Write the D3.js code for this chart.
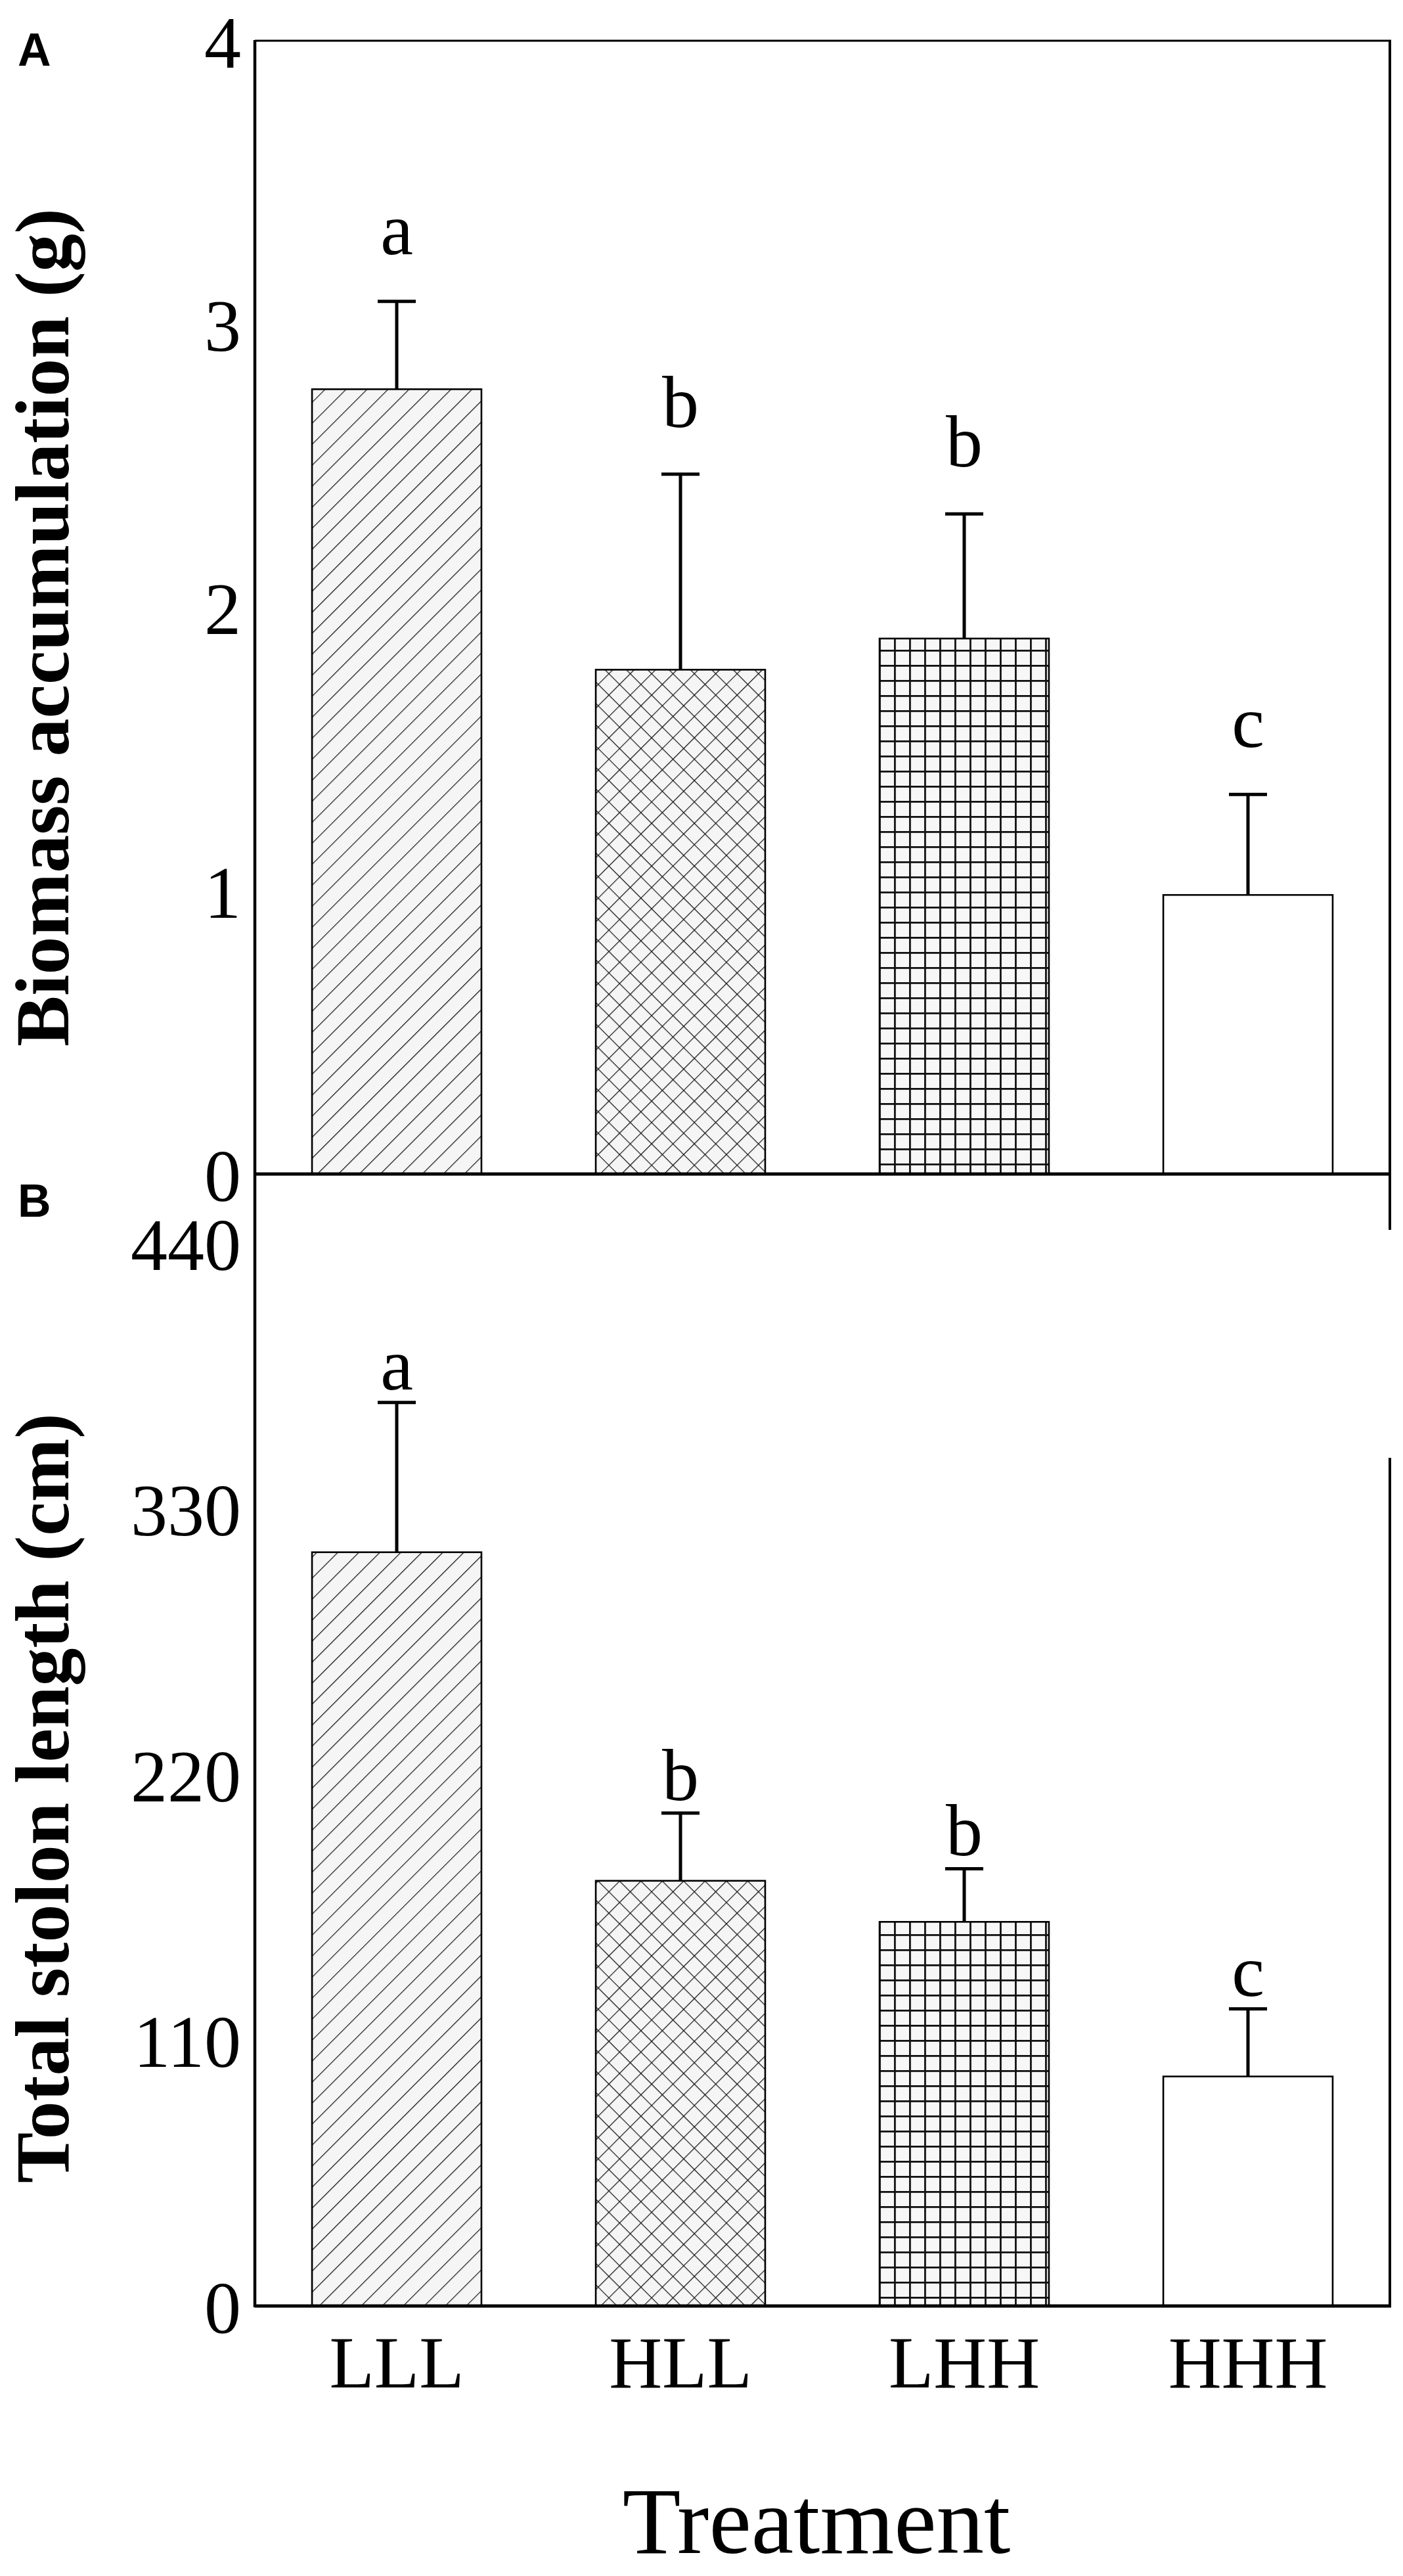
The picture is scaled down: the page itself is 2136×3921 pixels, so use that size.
<!DOCTYPE html>
<html>
<head>
<meta charset="utf-8">
<script src="https://cdn.jsdelivr.net/npm/d3@7/dist/d3.min.js"></script>
<style>
  html, body { margin: 0; padding: 0; background: #ffffff; }
  svg { display: block; }
</style>
</head>
<body>
<script>
// ---------------- data ----------------
const categories = ["LLL", "HLL", "LHH", "HHH"];
const biomassMean = [2.77, 1.78, 1.89, 0.985];
const biomassSE = [0.31, 0.69, 0.44, 0.355];
const biomassLetters = ["a", "b", "b", "c"];
const biomassTicks = [0, 1, 2, 3, 4];
const stolonMean = [312, 176, 159, 95];
const stolonSE = [62, 28, 22, 28];
const stolonLetters = ["a", "b", "b", "c"];
const stolonTicks = [0, 110, 220, 330, 440];
const patternIds = ["diag", "cross", "grid", "none"];

// ---------------- layout ----------------
const W = 2136, H = 3921;
const left = 388, right = 2116;
const serif = "'Liberation Serif','Times New Roman',Times,serif";
const sans = "'Liberation Sans',Arial,Helvetica,sans-serif";

const svg = d3.select("body").append("svg")
  .attr("width", W).attr("height", H)
  .attr("viewBox", `0 0 ${W} ${H}`);
svg.append("rect").attr("width", W).attr("height", H).attr("fill", "#fff");

const x = d3.scaleBand().domain(categories).range([left, right])
  .paddingInner(0.403).paddingOuter(0.2015);

// patterns
const defs = svg.append("defs");
const pd = defs.append("pattern").attr("id", "diag")
  .attr("patternUnits", "userSpaceOnUse").attr("width", 22.6).attr("height", 22.6)
  .attr("patternTransform", "rotate(45)");
pd.append("rect").attr("width", 22.6).attr("height", 22.6).attr("fill", "#f5f5f5");
pd.append("line").attr("x1", 0).attr("y1", 0).attr("x2", 0).attr("y2", 22.6)
  .attr("stroke", "#111").attr("stroke-width", 2.4);

const pc = defs.append("pattern").attr("id", "cross")
  .attr("patternUnits", "userSpaceOnUse").attr("width", 23).attr("height", 23)
  .attr("patternTransform", "rotate(45)");
pc.append("rect").attr("width", 23).attr("height", 23).attr("fill", "#f5f5f5");
pc.append("line").attr("x1", 0).attr("y1", 0).attr("x2", 0).attr("y2", 23)
  .attr("stroke", "#111").attr("stroke-width", 2.4);
pc.append("line").attr("x1", 0).attr("y1", 0).attr("x2", 23).attr("y2", 0)
  .attr("stroke", "#111").attr("stroke-width", 2.4);

const pg = defs.append("pattern").attr("id", "grid")
  .attr("patternUnits", "userSpaceOnUse").attr("width", 23).attr("height", 23)
  .attr("x", x("LHH") - 1).attr("y", 0);
pg.append("rect").attr("width", 23).attr("height", 23).attr("fill", "#f7f7f7");
pg.append("line").attr("x1", 1.4).attr("y1", 0).attr("x2", 1.4).attr("y2", 23)
  .attr("stroke", "#111").attr("stroke-width", 2.8);
pg.append("line").attr("x1", 0).attr("y1", 1.4).attr("x2", 23).attr("y2", 1.4)
  .attr("stroke", "#111").attr("stroke-width", 2.8);

function panel(opts) {
  const { mean, se, letters, ticks, top, bottom, letterGap, title, titleY } = opts;
  const y = d3.scaleLinear().domain([ticks[0], ticks[ticks.length - 1]]).range([bottom, top]);
  const g = svg.append("g");
  const rows = categories.map((c, i) => ({ c, m: mean[i], e: se[i], l: letters[i], p: patternIds[i] }));

  // bars
  g.selectAll("rect.bar").data(rows).join("rect").attr("class", "bar")
    .attr("x", d => x(d.c)).attr("width", x.bandwidth())
    .attr("y", d => y(d.m)).attr("height", d => y(0) - y(d.m))
    .attr("fill", d => d.p === "none" ? "#fff" : `url(#${d.p})`)
    .attr("stroke", "#000").attr("stroke-width", 2.6);

  // error bars (upper only)
  g.selectAll("line.err").data(rows).join("line").attr("class", "err")
    .attr("x1", d => x(d.c) + x.bandwidth() / 2).attr("x2", d => x(d.c) + x.bandwidth() / 2)
    .attr("y1", d => y(d.m)).attr("y2", d => y(d.m + d.e))
    .attr("stroke", "#000").attr("stroke-width", 5);
  g.selectAll("line.cap").data(rows).join("line").attr("class", "cap")
    .attr("x1", d => x(d.c) + x.bandwidth() / 2 - 29).attr("x2", d => x(d.c) + x.bandwidth() / 2 + 29)
    .attr("y1", d => y(d.m + d.e)).attr("y2", d => y(d.m + d.e))
    .attr("stroke", "#000").attr("stroke-width", 5);

  // significance letters
  g.selectAll("text.sig").data(rows).join("text").attr("class", "sig")
    .attr("x", d => x(d.c) + x.bandwidth() / 2)
    .attr("y", d => y(d.m + d.e) - letterGap)
    .attr("text-anchor", "middle")
    .attr("font-family", serif).attr("font-size", 112)
    .text(d => d.l);

  // y axis tick labels
  const ax = g.append("g").attr("transform", `translate(${left},0)`)
    .call(d3.axisLeft(y).tickValues(ticks).tickSize(0).tickPadding(21).tickFormat(d3.format("d")));
  ax.select(".domain").remove();
  ax.selectAll("text").attr("font-family", serif).attr("font-size", 112)
    .attr("fill", "#000").attr("dy", "0.36em");

  // baseline
  g.append("line").attr("x1", left).attr("x2", right + 2)
    .attr("y1", y(0)).attr("y2", y(0))
    .attr("stroke", "#000").attr("stroke-width", 5);

  // y title
  g.append("text")
    .attr("transform", `translate(104,${titleY}) rotate(-90)`)
    .attr("text-anchor", "middle")
    .attr("font-family", serif).attr("font-weight", "bold").attr("font-size", 116)
    .text(title);
  return y;
}

panel({
  mean: biomassMean, se: biomassSE, letters: biomassLetters, ticks: biomassTicks,
  top: 62, bottom: 1787, letterGap: 72,
  title: "Biomass accumulation (g)", titleY: 955
});
panel({
  mean: stolonMean, se: stolonSE, letters: stolonLetters, ticks: stolonTicks,
  top: 1892, bottom: 3510, letterGap: 20,
  title: "Total stolon length (cm)", titleY: 2737
});

// frame lines
const frame = svg.append("g").attr("stroke", "#000").attr("fill", "none");
frame.append("line").attr("x1", left).attr("x2", right + 2).attr("y1", 62).attr("y2", 62).attr("stroke-width", 3);
frame.append("line").attr("x1", right).attr("x2", right).attr("y1", 62).attr("y2", 1872).attr("stroke-width", 4);
frame.append("line").attr("x1", right).attr("x2", right).attr("y1", 2219).attr("y2", 3510).attr("stroke-width", 4);
frame.append("line").attr("x1", left).attr("x2", left).attr("y1", 61).attr("y2", 3512).attr("stroke-width", 4.5);

// x axis labels
const xa = svg.append("g").attr("transform", `translate(0,${3510})`)
  .call(d3.axisBottom(x).tickSize(0).tickPadding(44));
xa.select(".domain").remove();
xa.selectAll("text").attr("font-family", serif).attr("font-size", 112).attr("fill", "#000");

svg.append("text").attr("x", (left + right) / 2 - 9).attr("y", 3886)
  .attr("text-anchor", "middle").attr("font-family", serif).attr("font-size", 145)
  .text("Treatment");

// panel letters
svg.append("text").attr("x", 27).attr("y", 100)
  .attr("font-family", sans).attr("font-weight", "bold").attr("font-size", 70).text("A");
svg.append("text").attr("x", 27).attr("y", 1852)
  .attr("font-family", sans).attr("font-weight", "bold").attr("font-size", 70).text("B");
</script>
</body>
</html>
